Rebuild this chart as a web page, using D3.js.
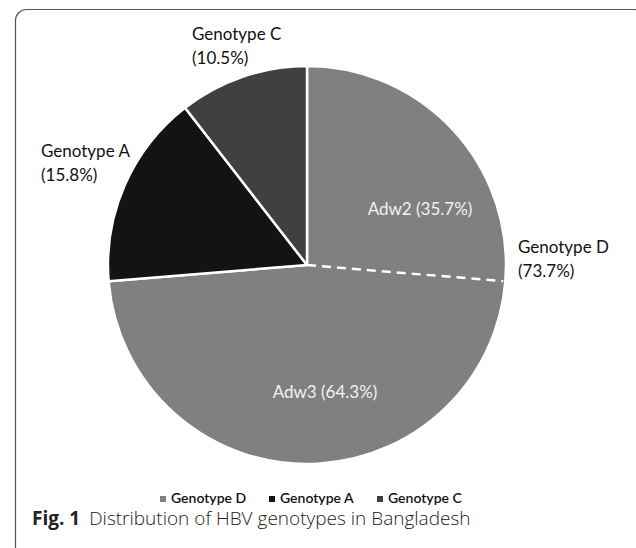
<!DOCTYPE html>
<html>
<head>
<meta charset="utf-8">
<script src="https://cdn.jsdelivr.net/npm/d3@7"></script>
<style>
  html, body { margin: 0; padding: 0; background: #fff; }
  svg { display: block; }
</style>
</head>
<body>
<div id="container"></div>
<script>
const $ = (...args) => document.querySelector(...args);

// data
const genotypes = ['Genotype D', 'Genotype A', 'Genotype C'];
const shares = [73.7, 15.8, 10.5];
const subtypes = ['Adw2', 'Adw3'];
const subShares = [35.7, 64.3];

const W = 636, H = 548;
const cx = 307, cy = 265, R = 199;
const labelFont = 'Lato, "Open Sans", sans-serif';

const color = d3.scaleOrdinal()
    .domain(genotypes)
    .range(['#808080', '#131313', '#404040']);

const svg = d3.select($('#container'))
    .append('svg')
    .attr('width', W)
    .attr('height', H)
    .attr('viewBox', [0, 0, W, H]);

// frame
svg.append('rect')
    .attr('x', 15.5).attr('y', 9.5)
    .attr('width', 630).attr('height', 550)
    .attr('rx', 11)
    .attr('fill', 'none')
    .attr('stroke', '#555')
    .attr('stroke-width', 1.2);

const pie = d3.pie().sort(null).value(d => d.v);
const arcs = pie(genotypes.map((g, i) => ({ g, v: shares[i] })));
const arc = d3.arc().innerRadius(0).outerRadius(R);

const g = svg.append('g').attr('transform', `translate(${cx},${cy})`);

g.selectAll('path')
    .data(arcs)
    .join('path')
    .attr('d', arc)
    .attr('fill', d => color(d.data.g))
    .attr('stroke', '#fff')
    .attr('stroke-width', 2.5)
    .attr('stroke-linejoin', 'round');

// split of genotype D into subtypes
const dArc = arcs[0];
const splitAngle = dArc.startAngle + (dArc.endAngle - dArc.startAngle) * subShares[0] / d3.sum(subShares);
const [ex, ey] = d3.pointRadial(splitAngle, R - 2);
g.append('line')
    .attr('x1', 0).attr('y1', 0)
    .attr('x2', ex).attr('y2', ey)
    .attr('stroke', '#fff')
    .attr('stroke-width', 2.5)
    .attr('stroke-dasharray', '9 6');

// outer labels (placed like the original, relative to the pie centre)
const outerPos = [[211, -12], [-266, -108], [-115, -225]];
arcs.forEach((d, i) => {
    const t = g.append('text')
        .attr('x', outerPos[i][0]).attr('y', outerPos[i][1])
        .attr('font-family', labelFont)
        .attr('font-size', 17)
        .attr('fill', '#111');
    t.append('tspan').attr('x', outerPos[i][0]).text(d.data.g);
    t.append('tspan').attr('x', outerPos[i][0]).attr('dy', 24).text(`(${d.data.v}%)`);
});

// inner subtype labels
const innerPos = [[113, -50], [18, 133]];
subtypes.forEach((s, i) => {
    g.append('text')
        .attr('x', innerPos[i][0]).attr('y', innerPos[i][1])
        .attr('text-anchor', 'middle')
        .attr('font-family', labelFont)
        .attr('font-size', 17)
        .attr('fill', '#f2f2f2')
        .text(`${s} (${subShares[i]}%)`);
});

// legend
const legendX = [160, 269, 377];
const legend = svg.append('g').attr('transform', 'translate(0,503)');
genotypes.forEach((name, i) => {
    legend.append('rect')
        .attr('x', legendX[i]).attr('y', -7)
        .attr('width', 6).attr('height', 6)
        .attr('fill', color(name));
    legend.append('text')
        .attr('x', legendX[i] + 11).attr('y', 0)
        .attr('font-family', labelFont)
        .attr('font-weight', 600)
        .attr('font-size', 14)
        .attr('fill', '#111')
        .text(name);
});

// caption
const cap = svg.append('text')
    .attr('x', 32).attr('y', 525)
    .attr('font-family', '"Open Sans", "Noto Sans", sans-serif')
    .attr('font-size', 19)
    .attr('fill', '#222');
cap.append('tspan').attr('font-weight', 700).text('Fig. 1');
cap.append('tspan').attr('dx', 9).attr('font-weight', 300).text('Distribution of HBV genotypes in Bangladesh');
</script>
</body>
</html>
